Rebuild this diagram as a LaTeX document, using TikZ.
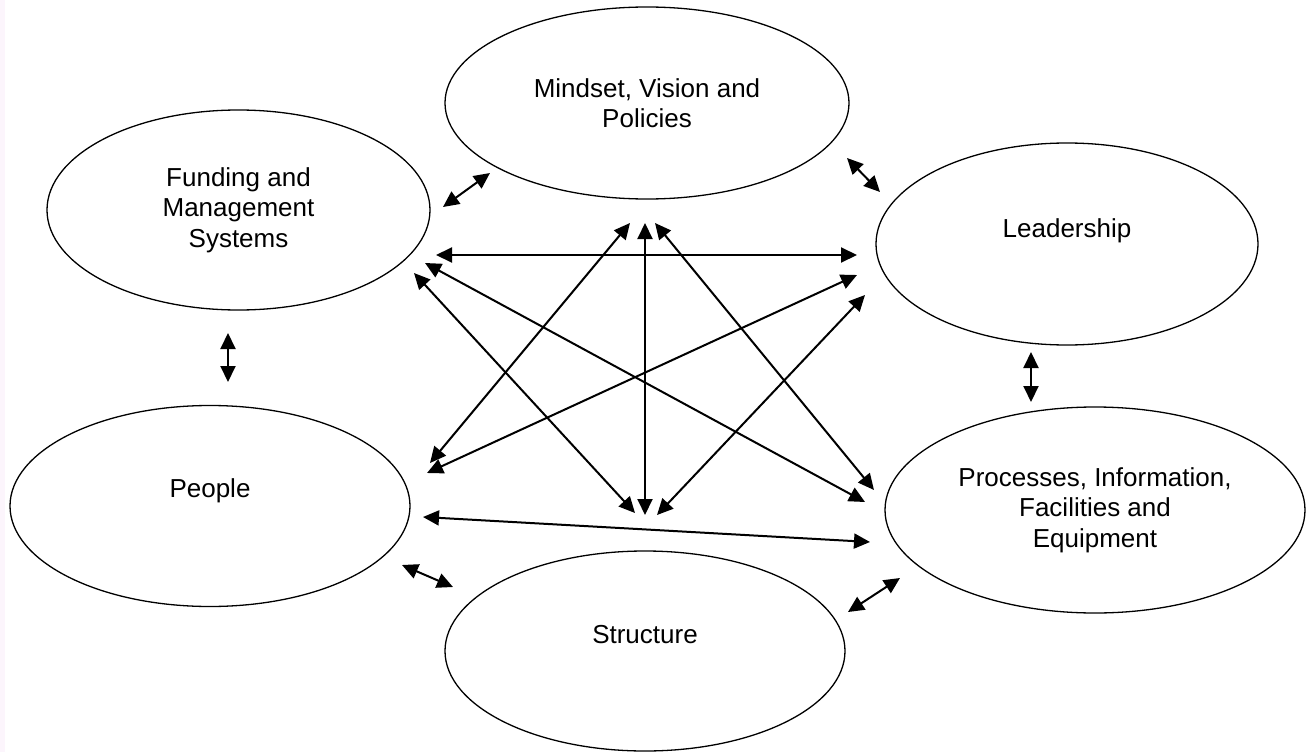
\documentclass[tikz,border=0pt]{standalone}
\usepackage{fontspec}
\setmainfont{Liberation Sans}
\usetikzlibrary{arrows.meta,shapes.geometric}
\begin{document}
\begin{tikzpicture}[x=1pt,y=-1pt,
  ell/.style={draw,ellipse,line width=1.3pt,inner sep=0pt},
  lbl/.style={font=\fontsize{26}{30.5}\selectfont,align=center,inner sep=0pt,anchor=base},
  link/.style={line width=2pt,{Triangle[length=16pt,width=15pt]}-{Triangle[length=16pt,width=15pt]}}]
\useasboundingbox (0,0) rectangle (1307,752);
\fill[fill={rgb,255:red,252;green,245;blue,252}] (0,0) rectangle (5,752);
% ellipses
\node[ell,minimum width=404pt,minimum height=192pt] (mind) at (647,103) {};
\node[ell,minimum width=383pt,minimum height=200pt] (fund) at (238.5,210) {};
\node[ell,minimum width=382pt,minimum height=202pt] (lead) at (1067,244) {};
\node[ell,minimum width=400pt,minimum height=201pt] (peop) at (210,506) {};
\node[ell,minimum width=420pt,minimum height=206pt] (proc) at (1095,510) {};
\node[ell,minimum width=400pt,minimum height=200pt] (stru) at (645,651) {};
% labels (anchor = baseline of last line)
\node[lbl] (mindt) at (647,128) {Mindset, Vision and\\Policies};
\node[lbl] (fundt) at (238.5,247) {Funding and\\Management\\Systems};
\node[lbl] (leadt) at (1067,237) {Leadership};
\node[lbl] (peopt) at (210,497) {People};
\node[lbl] (proct) at (1095,547) {Processes, Information,\\Facilities and\\Equipment};
\node[lbl] (strut) at (645,643) {Structure};
% arrow end points
\coordinate (fm1) at (443,207); \coordinate (fm2) at (490,173);
\coordinate (ml1) at (847,158); \coordinate (ml2) at (880,192);
\coordinate (fl1) at (436,255); \coordinate (fl2) at (857,255);
\coordinate (mp1) at (630,223); \coordinate (mp2) at (430,463);
\coordinate (ms1) at (645,223); \coordinate (ms2) at (645,515);
\coordinate (mr1) at (655,223); \coordinate (mr2) at (874,490);
\coordinate (fr1) at (425,263); \coordinate (fr2) at (865,502);
\coordinate (fs1) at (414,273); \coordinate (fs2) at (635,513);
\coordinate (lp1) at (857,275); \coordinate (lp2) at (427,473);
\coordinate (ls1) at (865,295); \coordinate (ls2) at (657,515);
\coordinate (pr1) at (423,517); \coordinate (pr2) at (870,542);
\coordinate (ps1) at (402,565); \coordinate (ps2) at (453,587);
\coordinate (sr1) at (848,612); \coordinate (sr2) at (900,578);
\coordinate (fp1) at (228,333); \coordinate (fp2) at (228,382);
\coordinate (lr1) at (1031,352); \coordinate (lr2) at (1031,402);
% connectors
\draw[link] (fm1) -- (fm2);
\draw[link] (ml1) -- (ml2);
\draw[link] (fl1) -- (fl2);
\draw[link] (mp1) -- (mp2);
\draw[link] (ms1) -- (ms2);
\draw[link] (mr1) -- (mr2);
\draw[link] (fr1) -- (fr2);
\draw[link] (fs1) -- (fs2);
\draw[link] (lp1) -- (lp2);
\draw[link] (ls1) -- (ls2);
\draw[link] (pr1) -- (pr2);
\draw[link] (ps1) -- (ps2);
\draw[link] (sr1) -- (sr2);
\draw[link] (fp1) -- (fp2);
\draw[link] (lr1) -- (lr2);
\end{tikzpicture}
\end{document}
